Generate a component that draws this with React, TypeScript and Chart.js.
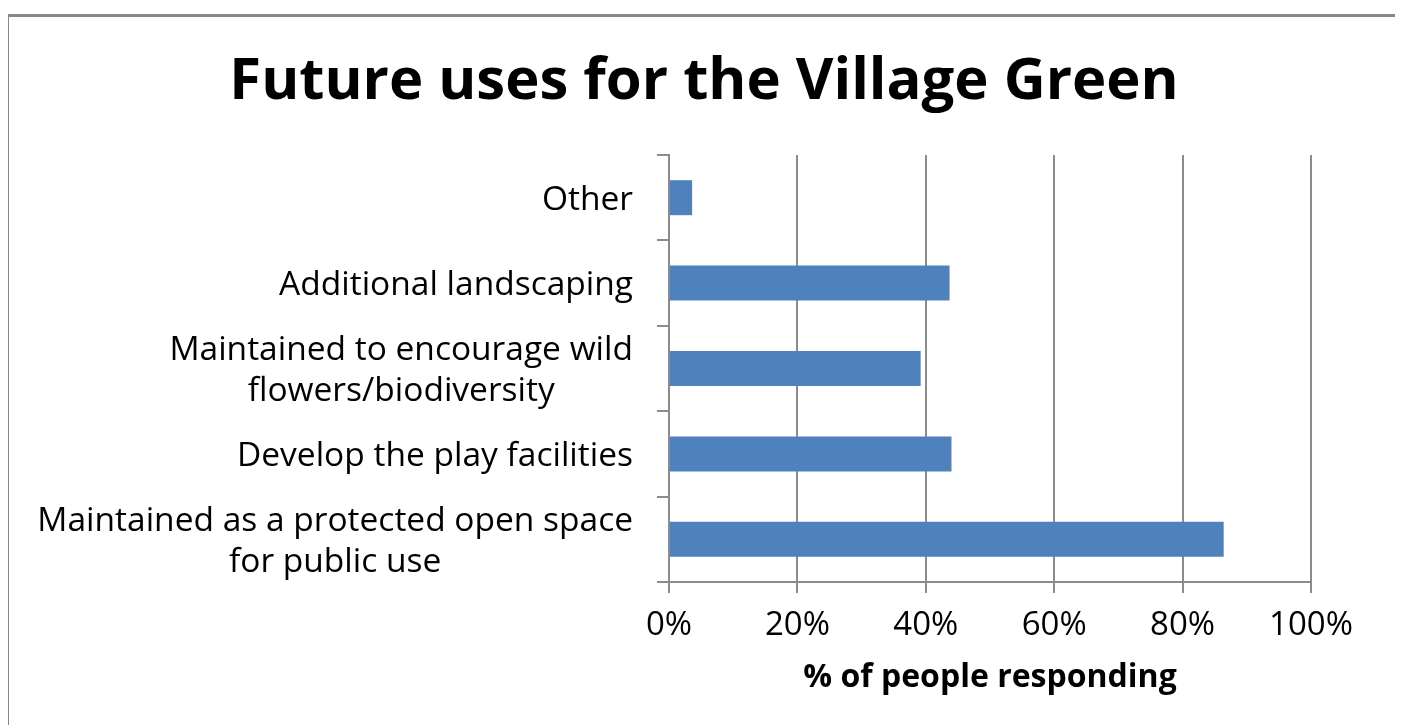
import React, { useEffect, useRef } from "react";
import { Chart, registerables } from "chart.js";

Chart.register(...registerables);

const TITLE = "Future uses for the Village Green";
const X_TITLE = "% of people responding";
const CATEGORY_LINES: string[][] = [
  ["Other"],
  ["Additional landscaping"],
  ["Maintained to encourage wild", "flowers/biodiversity"],
  ["Develop the play facilities"],
  ["Maintained as a protected open space", "for public use"],
];
const CATEGORIES = CATEGORY_LINES.map((l) => l.join(" "));
const VALUES = [3.6, 43.7, 39.2, 44.0, 86.4];
const X_TICKS = [0, 20, 40, 60, 80, 100];

const FONT = "'Open Sans', sans-serif";
const GRID = "#8c8c8c";
const LABEL_SIZE = 33.5;
const LABEL_LINE = 40.5;
const LABEL_RIGHT = 624;
const TITLE_SIZE = 58;

const textPlugin = {
  id: "texts",
  afterDraw(chart: any) {
    const ctx = chart.ctx;
    const y = chart.scales.y;
    ctx.save();
    // y category labels, lines centred on one another, block right-aligned
    ctx.font = `${LABEL_SIZE}px ${FONT}`;
    ctx.fillStyle = "#000";
    ctx.textBaseline = "alphabetic";
    ctx.textAlign = "center";
    const capHalf = (0.714 * LABEL_SIZE) / 2;
    CATEGORY_LINES.forEach((lines, i) => {
      const yc = y.getPixelForTick(i);
      const w = Math.max(...lines.map((l) => ctx.measureText(l).width));
      const xc = LABEL_RIGHT - w / 2;
      lines.forEach((line, j) => {
        ctx.fillText(line, xc, yc + capHalf + (j - (lines.length - 1) / 2) * LABEL_LINE);
      });
    });
    // chart title, centred on the whole canvas
    ctx.font = `bold ${TITLE_SIZE}px ${FONT}`;
    ctx.fillText(TITLE, chart.width / 2 + 2, 82);
    ctx.restore();
  },
};

export default function App() {
  const ref = useRef<HTMLCanvasElement | null>(null);
  useEffect(() => {
    if (!ref.current) return;
    const chart = new Chart(ref.current, {
      type: "bar",
      data: {
        labels: CATEGORIES,
        datasets: [
          {
            data: VALUES,
            backgroundColor: "#4F81BD",
            borderWidth: 0,
            categoryPercentage: 1,
            barPercentage: 0.41,
          },
        ],
      },
      options: {
        indexAxis: "y",
        animation: false,
        responsive: false,
        layout: { padding: { left: 648, right: 84, top: 138, bottom: 43.4 } },
        plugins: {
          legend: { display: false },
          tooltip: { enabled: false },
          title: { display: false },
        },
        scales: {
          x: {
            min: 0,
            max: 100,
            afterBuildTicks: (scale: any) => {
              scale.ticks = X_TICKS.map((v) => ({ value: v }));
            },
            ticks: {
              color: "#000",
              font: { family: FONT, size: 33 },
              padding: 13,
              callback: (v: any) => `${v}%`,
            },
            grid: { color: GRID, lineWidth: 2, tickLength: 11 },
            border: { color: GRID, width: 2 },
            title: {
              display: true,
              text: X_TITLE,
              color: "#000",
              font: { family: FONT, size: 32, weight: "bold", lineHeight: 1 },
              padding: { top: 3, bottom: 0 },
            },
          },
          y: {
            ticks: { display: false },
            grid: { color: GRID, lineWidth: 2, tickLength: 12, drawOnChartArea: false },
            border: { color: GRID, width: 2 },
          },
        },
      },
      plugins: [textPlugin],
    });
    return () => chart.destroy();
  }, []);

  return (
    <div style={{ paddingTop: 6 }}>
      <div
        style={{
          marginLeft: -2,
          width: 1386,
          height: 740,
          border: "3px solid #878787",
          background: "#fff",
          position: "relative",
        }}
      >
        <canvas ref={ref} width={1386} height={720} style={{ display: "block" }} />
      </div>
    </div>
  );
}
